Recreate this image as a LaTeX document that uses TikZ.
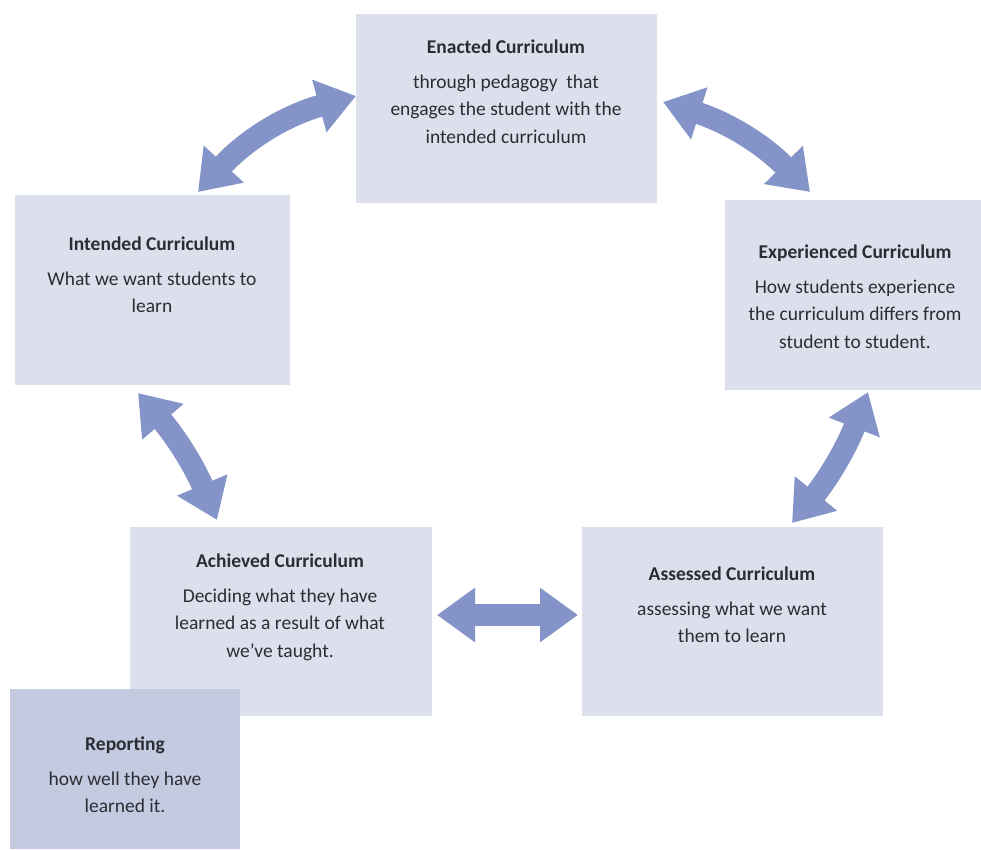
\documentclass[tikz,border=0pt]{standalone}
\usepackage{fontspec}
\setmainfont{Carlito}
\usetikzlibrary{arrows.meta}
\definecolor{boxfill}{HTML}{DCE0EC}
\definecolor{repfill}{HTML}{C4CAE0}
\definecolor{arrowcol}{HTML}{8494C8}
\definecolor{txtcol}{HTML}{2A2D33}
\tikzset{
  cbox/.style={draw=none, fill=boxfill, rectangle, anchor=north west, inner sep=0pt},
  rbox/.style={draw=none, fill=repfill, rectangle, anchor=north west, inner sep=0pt},
  ctext/.style={anchor=north, align=center, text=txtcol, font=\fontsize{19.5}{27.5}\selectfont, inner sep=0pt},
  dblarrow/.style={draw=arrowcol, line width=22pt,
    {Triangle[width=52pt,length=38pt]}-{Triangle[width=52pt,length=38pt]}},
}
\newcommand{\ttl}[1]{\textbf{#1}\\[7pt]}
\begin{document}
\begin{tikzpicture}[x=1pt,y=-1pt]
\useasboundingbox (0,0) rectangle (981,849);
% boxes
\node[cbox, minimum width=301pt, minimum height=189pt] (enacted) at (356,14) {};
\node[cbox, minimum width=275pt, minimum height=190pt] (intended) at (15,195) {};
\node[cbox, minimum width=256pt, minimum height=190pt] (experienced) at (725,200) {};
\node[cbox, minimum width=302pt, minimum height=189pt] (achieved) at (130,527) {};
\node[cbox, minimum width=301pt, minimum height=189pt] (assessed) at (582,527) {};
\node[rbox, minimum width=230pt, minimum height=160pt] (reporting) at (10,689) {};
% texts
\node[ctext] (tenacted) at (506,40) {\ttl{Enacted Curriculum}through pedagogy\ \ that\\engages the student with the\\intended curriculum};
\node[ctext] (tintended) at (152,237) {\ttl{Intended Curriculum}What we want students to\\learn};
\node[ctext] (texperienced) at (855,245) {\ttl{Experienced Curriculum}How students experience\\the curriculum differs from\\student to student.};
\node[ctext] (tachieved) at (280,554) {\ttl{Achieved Curriculum}Deciding what they have\\learned as a result of what\\we’ve taught.};
\node[ctext] (tassessed) at (732,567) {\ttl{Assessed Curriculum}assessing what we want\\them to learn};
\node[ctext] (treporting) at (125,737) {\ttl{Reporting}how well they have\\learned it.};
% arrow end points
\coordinate (a1s) at (198,192);
\coordinate (a1e) at (356,96);
\coordinate (a2s) at (663,102);
\coordinate (a2e) at (810,192);
\coordinate (a3s) at (868,392);
\coordinate (a3e) at (792,523);
\coordinate (a4s) at (138,393);
\coordinate (a4e) at (217,520);
\coordinate (a5s) at (437,615);
\coordinate (a5e) at (578,615);
\draw[dblarrow] (a1s) to[bend left=16] (a1e);
\draw[dblarrow] (a2s) to[bend left=14] (a2e);
\draw[dblarrow] (a3s) to[bend left=9] (a3e);
\draw[dblarrow] (a4s) to[bend left=9] (a4e);
\draw[dblarrow] (a5s) -- (a5e);
\end{tikzpicture}
\end{document}
